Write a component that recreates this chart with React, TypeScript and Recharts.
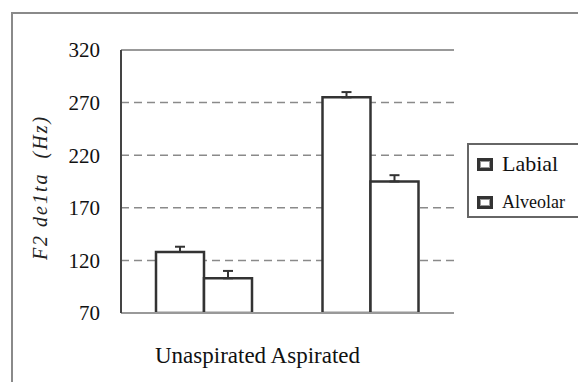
import React from 'react';
import { BarChart, Bar, XAxis, YAxis, CartesianGrid, ErrorBar, ReferenceLine } from 'recharts';

const categories = ['Unaspirated', 'Aspirated'];
const labial = [128, 275];
const alveolar = [103, 195];
const labialErr = [5, 5];
const alveolarErr = [7, 6];
const yTicks = [70, 120, 170, 220, 270, 320];
const seriesNames = ['Labial', 'Alveolar'];
const xAxisTitle = 'Unaspirated Aspirated';
const yAxisTitle = 'F2 de1ta  (Hz)';

const data = categories.map((c, i) => ({
  name: c,
  labial: labial[i],
  alveolar: alveolar[i],
  labialErr: [0, labialErr[i]],
  alveolarErr: [0, alveolarErr[i]],
}));

const FONT = 'Liberation Serif, Tinos, Times New Roman, DejaVu Serif, serif';

const YLabel = (props: any) => {
  const { viewBox } = props;
  const cy = viewBox.y + viewBox.height / 2 + 6;
  return (
    <text
      x={40}
      y={cy}
      transform={`rotate(-90, 40, ${cy})`}
      textAnchor="middle"
      dominantBaseline="central"
      style={{ fontFamily: FONT, fontStyle: 'italic', fontSize: 20, fill: '#222', whiteSpace: 'pre', letterSpacing: 2 }}
    >
      {yAxisTitle}
    </text>
  );
};

const XLabel = (props: any) => {
  const { viewBox } = props;
  const cx = viewBox.x + viewBox.width / 2 - 30;
  return (
    <text
      x={cx}
      y={viewBox.y + 42}
      textAnchor="middle"
      dominantBaseline="central"
      style={{ fontFamily: FONT, fontSize: 23, fill: '#111' }}
    >
      {xAxisTitle}
    </text>
  );
};

const LegendIcon = () => (
  <span
    style={{
      display: 'inline-block',
      width: 16,
      height: 13,
      boxSizing: 'border-box',
      border: '3px solid #333',
      background: '#fff',
      boxShadow: 'inset 0 0 0 1px #999',
      marginRight: 9,
    }}
  />
);

export default function App() {
  return (
    <div
      style={{
        position: 'absolute',
        left: 0,
        top: 0,
        width: 578,
        height: 382,
        overflow: 'hidden',
        background: '#fff',
        fontFamily: FONT,
      }}
    >
      <div
        style={{
          position: 'absolute',
          left: 11,
          top: 12,
          width: 620,
          height: 420,
          border: '2px solid #8a8a8a',
        }}
      />
      <div style={{ position: 'absolute', left: 0, top: 0 }}>
        <BarChart
          width={578}
          height={382}
          data={data}
          margin={{ top: 50, right: 124, bottom: 0, left: 0 }}
          barGap={0}
          barSize={48}
          style={{ fontFamily: FONT }}
        >
          <CartesianGrid yAxisId="left" vertical={false} stroke="#8a8a8a" strokeDasharray="8 5" strokeWidth={1.5} />
          <XAxis
            dataKey="name"
            height={69}
            tick={false}
            tickLine={false}
            axisLine={{ stroke: '#999', strokeWidth: 2 }}
            label={<XLabel />}
          />
          <YAxis
            yAxisId="left"
            width={121}
            domain={[70, 320]}
            ticks={yTicks}
            allowDataOverflow
            tickSize={0}
            tickMargin={21}
            tickLine={false}
            axisLine={{ stroke: '#444', strokeWidth: 2 }}
            tick={{ style: { fontFamily: FONT, fontSize: 21 }, fill: '#111' }}
            label={<YLabel />}
          />
          <YAxis
            yAxisId="right"
            orientation="right"
            width={0}
            domain={[70, 320]}
            tick={false}
            tickLine={false}
            axisLine={{ stroke: '#999', strokeWidth: 1.5 }}
          />
          <ReferenceLine yAxisId="left" y={320} stroke="#999" strokeWidth={2} />
          <Bar
            yAxisId="left"
            dataKey="labial"
            name={seriesNames[0]}
            fill="#fff"
            stroke="#333"
            strokeWidth={2.5}
            isAnimationActive={false}
          >
            <ErrorBar dataKey="labialErr" width={5} stroke="#333" strokeWidth={2} />
          </Bar>
          <Bar
            yAxisId="left"
            dataKey="alveolar"
            name={seriesNames[1]}
            fill="#fff"
            stroke="#333"
            strokeWidth={2.5}
            isAnimationActive={false}
          >
            <ErrorBar dataKey="alveolarErr" width={5} stroke="#333" strokeWidth={2} />
          </Bar>
        </BarChart>
      </div>
      <div
        style={{
          position: 'absolute',
          left: 467,
          top: 143,
          width: 130,
          height: 71,
          border: '2px solid #666',
          background: '#fff',
          color: '#111',
        }}
      >
        <div style={{ position: 'absolute', left: 8, top: 6, display: 'flex', alignItems: 'center', fontSize: 22, lineHeight: '26px' }}>
          <LegendIcon />
          {seriesNames[0]}
        </div>
        <div style={{ position: 'absolute', left: 8, top: 46, display: 'flex', alignItems: 'center', fontSize: 18, lineHeight: '22px' }}>
          <LegendIcon />
          {seriesNames[1]}
        </div>
      </div>
    </div>
  );
}
